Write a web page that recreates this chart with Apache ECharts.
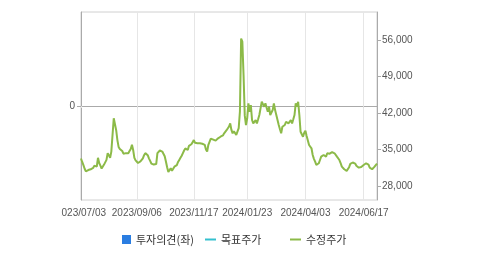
<!DOCTYPE html>
<html><head><meta charset="utf-8">
<script src="https://cdn.jsdelivr.net/npm/echarts@6/dist/echarts.min.js"></script>
<style>
html,body{margin:0;padding:0;background:#fff;}
#clip{position:absolute;left:61px;top:0;width:418px;height:254px;overflow:hidden;}
#chart{position:absolute;left:-61px;top:0;width:479px;height:254px;}
</style></head>
<body><div id="clip"><div id="chart"></div></div>
<script>
// Trading-day categories (KRX calendar)
const startDate = '2023-07-03';
const endDate = '2024-07-02';
const holidays = ['2023-08-15','2023-09-28','2023-09-29','2023-10-02','2023-10-03','2023-10-09',
  '2023-12-25','2023-12-29','2024-01-01','2024-02-09','2024-02-12','2024-03-01','2024-04-10',
  '2024-05-01','2024-05-06','2024-05-15','2024-06-06'];
const tickLabels = ['2023/07/03','2023/09/06','2023/11/17','2024/01/23','2024/04/03','2024/06/17'];
const rightTicks = [28000,35000,42000,49000,56000];
const leftTicks = [0];

// 수정주가 (adjusted price)
const prices = [
33270,32600,32000,31300,30800,30500,31050,31300,31200,31400,
31450,31900,31700,31700,33400,32400,31900,31350,31500,32100,
32200,33000,34300,33900,33400,34600,34900,41000,41300,38700,
36800,35500,35100,34900,34700,34200,34500,34300,34100,34300,
34700,35100,35900,34900,33400,32900,32600,32400,32500,32700,
32600,33300,33900,34300,34550,33900,33300,32800,32300,32000,
32100,32000,32200,34300,34500,34800,34700,34600,34500,33700,
32700,31600,30700,31000,31400,30900,31300,31700,31800,32000,
32600,33000,33400,33800,34300,34800,35200,35000,34900,35700,
35900,36000,36400,36800,36300,36500,36200,36300,36200,35900,
36100,36200,35900,35000,34600,35900,36200,37100,37450,36900,
36600,36700,36800,37150,37000,37450,37800,37700,38100,38400,
38700,39060,39400,40000,38750,38100,38500,38750,37800,37450,
39100,42300,56300,55700,49300,41500,39700,40980,43860,42250,
43530,40660,40000,39700,40660,40020,40800,41620,42900,44170,
44490,43210,43860,43000,42250,43210,41620,41900,42570,43860,
42570,41600,40660,39700,38900,38110,39370,39500,39700,40330,
40100,40020,40400,40660,40020,40800,41620,43860,43210,44170,
41620,38410,38200,37450,38200,38600,37600,37300,35860,35500,
35230,33940,33200,32660,32030,32000,32350,32980,33620,33800,
33940,33700,33620,34270,34580,34200,34270,34500,34710,34270,
34580,33620,33300,32980,32400,31700,31400,31200,31070,30900,
30950,31600,32220,32400,32500,32600,32300,31890,31700,31510,
31700,31640,32000,32030,32300,32350,32300,32100,31510,31300,
31200,31300,31700,31900,32300
];
const targetPrices = [];
const opinions = [];

function pad(n){return (n<10?'0':'')+n;}
function buildDates(){
  const out=[]; const hol=new Set(holidays);
  let d=new Date(startDate+'T00:00:00Z'); const e=new Date(endDate+'T00:00:00Z');
  while(d<=e){
    const wd=d.getUTCDay();
    const iso=d.getUTCFullYear()+'-'+pad(d.getUTCMonth()+1)+'-'+pad(d.getUTCDate());
    if(wd!==0&&wd!==6&&!hol.has(iso)) out.push(iso.replace(/-/g,'/'));
    d=new Date(d.getTime()+86400000);
  }
  return out;
}
const dates = buildDates();
const showTick = (i, v) => tickLabels.indexOf(v) >= 0;

const font = 'Liberation Sans, Arial, sans-serif';
const chart = echarts.init(document.getElementById('chart'), null, {renderer:'canvas'});
chart.setOption({
  animation:false,
  grid:{left:81,right:102,top:12,bottom:54,show:true,borderColor:'#d0d0d0',borderWidth:1},
  legend:[
    {data:[{name:'투자의견(좌)',icon:'rect'}],left:117,top:229,itemWidth:9,itemHeight:9,itemGap:0,
     textStyle:{fontSize:11,color:'#333',fontFamily:'Noto Sans CJK KR'}},
    {data:[{name:'목표주가',icon:'rect'}],left:200,top:229,itemWidth:11,itemHeight:2,
     textStyle:{fontSize:11,color:'#333',fontFamily:'Noto Sans CJK KR'}},
    {data:[{name:'수정주가',icon:'rect'}],left:285,top:229,itemWidth:11,itemHeight:2,
     textStyle:{fontSize:11,color:'#333',fontFamily:'Noto Sans CJK KR'}}
  ],
  xAxis:{type:'category',data:dates,boundaryGap:false,
    axisLine:{lineStyle:{color:'#aaa'}},
    axisTick:{show:true,interval:showTick,length:2,lineStyle:{color:'#ddd'}},
    axisLabel:{interval:showTick,fontSize:10,color:'#555',margin:8,fontFamily:font},
    splitLine:{show:true,interval:showTick,lineStyle:{color:'#e6e6e6'}}},
  yAxis:[
    {type:'value',position:'left',min:-1,max:1,interval:1,
     axisLine:{show:true,lineStyle:{color:'#aaa'}},
     axisTick:{show:true,length:4,customValues:leftTicks,lineStyle:{color:'#aaa'}},
     axisLabel:{customValues:leftTicks,fontSize:10,color:'#555',margin:6,fontFamily:font},
     splitLine:{show:true,lineStyle:{color:'#e6e6e6'}}},
    {type:'value',position:'right',min:25300,max:61400,
     axisLine:{show:true,lineStyle:{color:'#aaa'}},
     axisTick:{show:true,length:4,customValues:rightTicks,lineStyle:{color:'#aaa'}},
     axisLabel:{customValues:rightTicks,fontSize:10,color:'#555',margin:5,fontFamily:font,
       formatter:v=>v.toLocaleString('en-US')},
     splitLine:{show:false}}
  ],
  series:[
    {name:'투자의견(좌)',type:'bar',yAxisIndex:0,data:opinions,itemStyle:{color:'#2a7de1'}},
    {name:'목표주가',type:'line',yAxisIndex:1,data:targetPrices,symbol:'none',itemStyle:{color:'#35c0cf'},lineStyle:{color:'#35c0cf'}},
    {name:'수정주가',type:'line',yAxisIndex:1,data:prices,symbol:'none',itemStyle:{color:'#8cba48'},
     lineStyle:{color:'#8cba48',width:2}}
  ]
});
</script></body></html>
